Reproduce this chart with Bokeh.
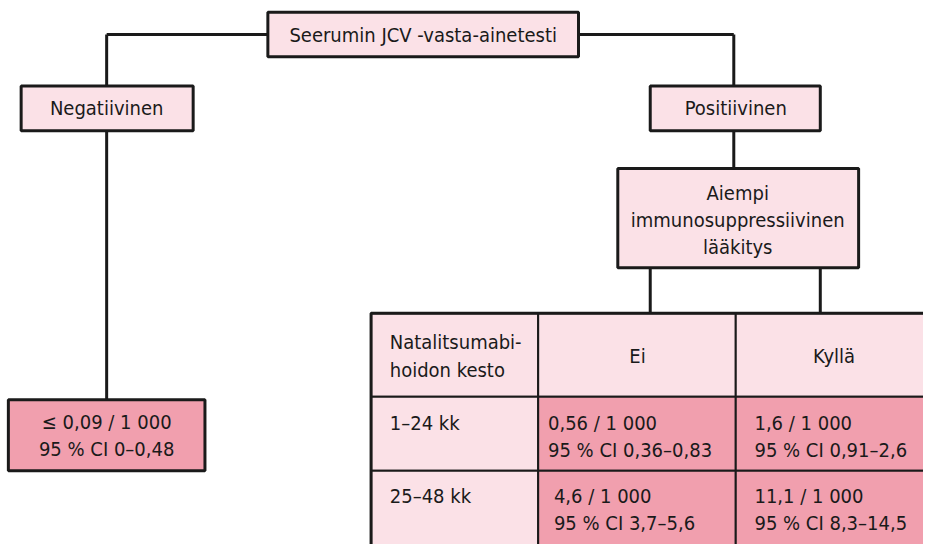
from bokeh.plotting import figure
from bokeh.models import Range1d, ColumnDataSource
from bokeh.core.properties import value
from bokeh.embed import file_html
from bokeh.resources import INLINE

# ---- content ----
root_label = "Seerumin JCV -vasta-ainetesti"
branch_labels = ["Negatiivinen", "Positiivinen"]
negative_result = ["\u2264 0,09 / 1 000", "95 % CI 0\u20130,48"]
prior_label = ["Aiempi", "immunosuppressiivinen", "lääkitys"]
table_header = ["Natalitsumabi-\nhoidon kesto", "Ei", "Kyllä"]
durations = ["1\u201324 kk", "25\u201348 kk"]
rate_no = ["0,56 / 1 000", "4,6 / 1 000"]
ci_no = ["95 % CI 0,36\u20130,83", "95 % CI 3,7\u20135,6"]
rate_yes = ["1,6 / 1 000", "11,1 / 1 000"]
ci_yes = ["95 % CI 0,91\u20132,6", "95 % CI 8,3\u201314,5"]

# ---- layout (diagram coordinates, 939 x 560 canvas) ----
LIGHT = "#fbe1e7"
DARK = "#f19fae"
INK = "#1a1a1a"
FONT = value("'DejaVu Sans Condensed', 'Liberation Sans Narrow', 'Roboto Condensed', Roboto, sans-serif")

p = figure(width=923, height=544, x_range=Range1d(0, 939), y_range=Range1d(560, 0),
           output_backend="svg", toolbar_location=None, min_border=0)
p.axis.visible = False
p.grid.visible = False
p.outline_line_color = None
p.background_fill_color = "white"

# connectors
seg = dict(x0=[272, 108, 588, 746, 108, 746, 661, 834],
           y0=[35, 35, 35, 35, 134, 134, 275, 275],
           x1=[108, 108, 746, 746, 108, 746, 661, 834],
           y1=[35, 88, 35, 88, 411, 173, 322, 322])
p.segment(x0="x0", y0="y0", x1="x1", y1="y1", source=ColumnDataSource(seg),
          line_color=INK, line_width=3)

# boxes
boxes = dict(left=[272, 21, 661, 628, 8], right=[588, 196, 834, 873, 208],
             top=[12, 88, 88, 173, 411], bottom=[58, 134, 134, 275, 484],
             fill=[LIGHT, LIGHT, LIGHT, LIGHT, DARK])
p.quad(left="left", right="right", top="top", bottom="bottom", fill_color="fill",
       source=ColumnDataSource(boxes), line_color=INK, line_width=3)

# table cells
col_edges = [377, 547, 748, 955]
row_edges = [322, 408, 484, 580]
cl, cr, ct, cb, cf = [], [], [], [], []
for r in range(3):
    for c in range(3):
        cl.append(col_edges[c]); cr.append(col_edges[c + 1])
        ct.append(row_edges[r]); cb.append(row_edges[r + 1])
        cf.append(LIGHT if (r == 0 or c == 0) else DARK)
p.quad(left=cl, right=cr, top=ct, bottom=cb, fill_color=cf, line_color=INK, line_width=2)
p.quad(left=[col_edges[0]], right=[col_edges[-1]], top=[row_edges[0]], bottom=[row_edges[-1]],
       fill_color=None, line_color=INK, line_width=3)

FS = "20px"

def txt(xs, ys, texts, align="center"):
    p.text(x=xs, y=ys, text=texts, text_font=FONT, text_font_size=FS, text_color=INK,
           text_align=align, text_baseline="middle")

txt([430, 108, 748], [35, 111, 111], [root_label] + branch_labels)
txt([750, 750, 750], [198, 226, 254], prior_label)
txt([108, 108], [434, 462], negative_result)
txt([648, 848], [366, 366], table_header[1:])

hdr = table_header[0].split("\n")
txt([396, 396], [352, 380], hdr, align="left")
txt([396, 396], [435, 510], durations, align="left")
txt([557, 563], [435, 510], rate_no, align="left")
txt([557, 563], [463, 538], ci_no, align="left")
txt([767, 767], [435, 510], rate_yes, align="left")
txt([767, 767], [463, 538], ci_yes, align="left")

open("out.html", "w").write(file_html(p, INLINE))
